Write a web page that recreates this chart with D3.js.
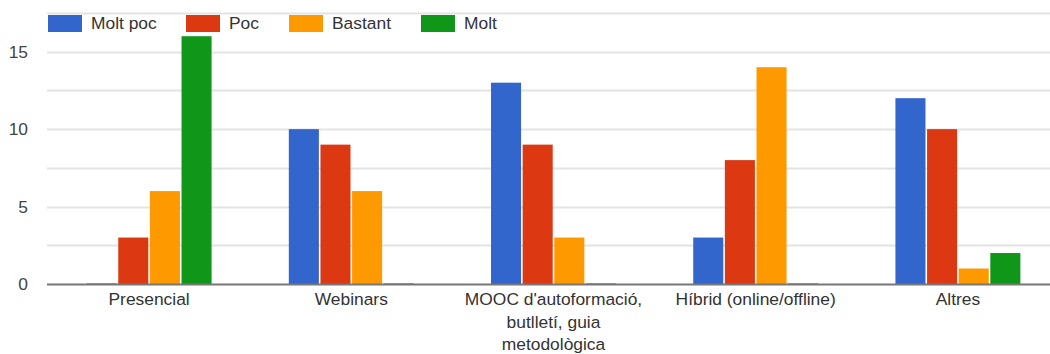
<!DOCTYPE html>
<html>
<head>
<meta charset="utf-8">
<script src="https://cdn.jsdelivr.net/npm/d3@7"></script>
<style>
  html, body { margin: 0; padding: 0; background: #fff; }
  svg { display: block; font-family: "Liberation Sans", Arial, sans-serif; }
</style>
</head>
<body>
<svg id="chart" width="1050" height="354"></svg>
<script>
// Survey answers per training format
const categories = [
  "Presencial",
  "Webinars",
  "MOOC d'autoformació, butlletí, guia metodològica",
  "Híbrid (online/offline)",
  "Altres"
];
const seriesNames = ["Molt poc", "Poc", "Bastant", "Molt"];
const seriesColors = ["#3366cc", "#dc3912", "#ff9900", "#109618"];
const moltPoc = [0, 10, 13, 3, 12];
const poc     = [3, 9, 9, 8, 10];
const bastant = [6, 6, 3, 14, 1];
const molt    = [16, 0, 0, 0, 2];
const yTicks  = [0, 5, 10, 15];
const yGrid   = [2.5, 5, 7.5, 10, 12.5, 15, 17.5];

const seriesValues = [moltPoc, poc, bastant, molt];
const fontSize = 17.4;

const svg = d3.select("#chart");
const margin = { left: 47, top: 13, bottom: 284 };
const plotRight = 1059;

const x0 = d3.scaleBand()
  .domain(categories)
  .range([margin.left + 1, plotRight])
  .paddingInner(0.382)
  .paddingOuter(0.191);

const x1 = d3.scaleBand()
  .domain(seriesNames)
  .range([0, x0.bandwidth()])
  .paddingInner(0.05);

const y = d3.scaleLinear()
  .domain([0, 17.5])
  .range([margin.bottom, margin.top]);

// gridlines
svg.append("g")
  .selectAll("line")
  .data(yGrid)
  .join("line")
  .attr("x1", margin.left)
  .attr("x2", 1050)
  .attr("y1", d => Math.round(y(d)) + 0.5)
  .attr("y2", d => Math.round(y(d)) + 0.5)
  .attr("stroke", "#e3e3e3")
  .attr("stroke-width", 2);

// y axis labels
const yAxis = d3.axisLeft(y).tickValues(yTicks).tickSize(0).tickPadding(0);
const gy = svg.append("g")
  .attr("transform", "translate(28,0)")
  .call(yAxis);
gy.select(".domain").remove();
gy.selectAll("text")
  .attr("font-size", fontSize)
  .attr("fill", "#444")
  .attr("font-family", "Liberation Sans, Arial, sans-serif");

// bars
const groups = svg.append("g")
  .selectAll("g")
  .data(categories)
  .join("g")
  .attr("transform", d => `translate(${x0(d)},0)`);

groups.selectAll("rect")
  .data((c, i) => seriesNames.map((s, k) => ({ s, k, v: seriesValues[k][i] })))
  .join("rect")
  .attr("x", d => x1(d.s))
  .attr("width", x1.bandwidth())
  .attr("y", d => d.v === 0 ? y(0) - 1 : y(d.v))
  .attr("height", d => d.v === 0 ? 1 : y(0) - y(d.v))
  .attr("fill", d => seriesColors[d.k])
  .attr("opacity", d => d.v === 0 ? 0.6 : 1);

// baseline
svg.append("line")
  .attr("x1", margin.left)
  .attr("x2", 1050)
  .attr("y1", y(0) + 0.5)
  .attr("y2", y(0) + 0.5)
  .attr("stroke", "#777")
  .attr("stroke-width", 2);

// category labels, wrapped to fit
const labelWidth = 194;
const gx = svg.append("g");
categories.forEach(cat => {
  const cx = x0(cat) + x0.bandwidth() / 2;
  const t = gx.append("text")
    .attr("x", cx)
    .attr("y", 305)
    .attr("text-anchor", "middle")
    .attr("font-size", fontSize)
    .attr("fill", "#333");
  const words = cat.split(" ");
  let line = [];
  let tspan = t.append("tspan").attr("x", cx).attr("dy", 0);
  words.forEach(w => {
    line.push(w);
    tspan.text(line.join(" "));
    if (tspan.node().getComputedTextLength() > labelWidth && line.length > 1) {
      line.pop();
      tspan.text(line.join(" "));
      line = [w];
      tspan = t.append("tspan")
        .attr("x", cx)
        .attr("dy", 22.5)
        .text(w);
    }
  });
});

// legend
const legendX = [48, 186, 289, 421];
const legend = svg.append("g");
seriesNames.forEach((name, k) => {
  legend.append("rect")
    .attr("x", legendX[k])
    .attr("y", 15)
    .attr("width", 34)
    .attr("height", 17)
    .attr("fill", seriesColors[k]);
  legend.append("text")
    .attr("x", legendX[k] + 43)
    .attr("y", 29)
    .attr("font-size", fontSize)
    .attr("fill", "#333")
    .text(name);
});
</script>
</body>
</html>
